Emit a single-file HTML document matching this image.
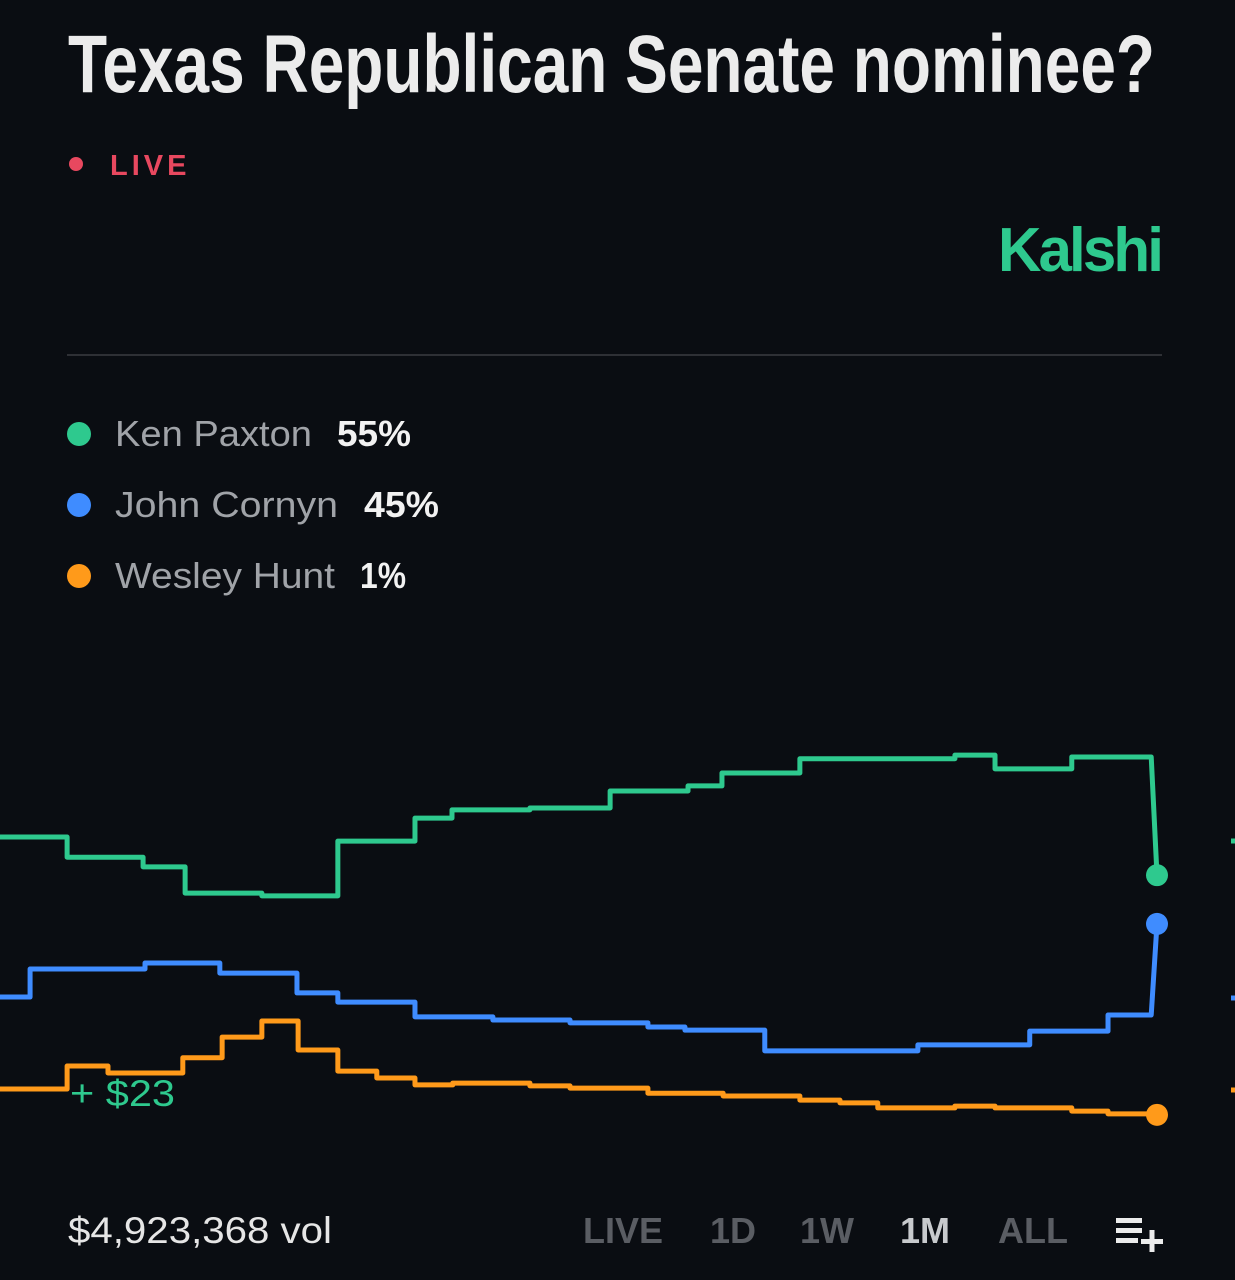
<!DOCTYPE html>
<html><head><meta charset="utf-8"><style>
html,body{margin:0;padding:0;background:#0a0d12;}
svg{display:block;}
</style></head><body>
<svg id="chart" width="1235" height="1280" viewBox="0 0 1235 1280" xmlns="http://www.w3.org/2000/svg">
<rect width="1235" height="1280" fill="#0a0d12"/>
<text x="68" y="92" font-family="Liberation Sans Narrow, Liberation Sans, sans-serif" font-weight="bold" font-size="82" fill="#ececec" textLength="1087" lengthAdjust="spacingAndGlyphs">Texas Republican Senate nominee?</text>
<circle cx="76" cy="164" r="7" fill="#e8485f"/>
<text x="110" y="175" font-family="Liberation Sans, sans-serif" font-weight="bold" font-size="29" letter-spacing="4" fill="#e8485f">LIVE</text>
<text x="998" y="271" font-family="Liberation Sans, sans-serif" font-weight="bold" font-size="62" letter-spacing="-3" fill="#2ec98e" textLength="163" lengthAdjust="spacingAndGlyphs">Kalshi</text>
<line x1="67" y1="355" x2="1162" y2="355" stroke="#2e3035" stroke-width="2"/>
<g font-family="Liberation Sans, sans-serif" font-size="36">
 <g><circle cx="79" cy="434" r="12" fill="#2ec98e"/><text x="115" y="446" fill="#a0a3a8" textLength="197" lengthAdjust="spacingAndGlyphs">Ken Paxton</text><text x="337" y="446" fill="#f2f2f2" font-weight="bold" textLength="74" lengthAdjust="spacingAndGlyphs">55%</text></g>
 <g><circle cx="79" cy="505" r="12" fill="#3f8cff"/><text x="115" y="517" fill="#a0a3a8" textLength="223" lengthAdjust="spacingAndGlyphs">John Cornyn</text><text x="364" y="517" fill="#f2f2f2" font-weight="bold" textLength="75" lengthAdjust="spacingAndGlyphs">45%</text></g>
 <g><circle cx="79" cy="576" r="12" fill="#ff9a1a"/><text x="115" y="588" fill="#a0a3a8" textLength="220" lengthAdjust="spacingAndGlyphs">Wesley Hunt</text><text x="360" y="588" fill="#f2f2f2" font-weight="bold" textLength="46" lengthAdjust="spacingAndGlyphs">1%</text></g>
</g>
<g id="plot"></g>
<text x="70" y="1106" font-family="Liberation Sans, sans-serif" font-size="37" fill="#2ec98e" textLength="105" lengthAdjust="spacingAndGlyphs">+ $23</text>
<text x="68" y="1243" font-family="Liberation Sans, sans-serif" font-size="37" fill="#e6e6e6" textLength="264" lengthAdjust="spacingAndGlyphs">$4,923,368 vol</text>
<g font-family="Liberation Sans, sans-serif" font-weight="bold" font-size="36">
 <text x="583" y="1243" fill="#5a5d63">LIVE</text>
 <text x="710" y="1243" fill="#5a5d63">1D</text>
 <text x="800" y="1243" fill="#5a5d63">1W</text>
 <text x="900" y="1243" fill="#c8cacd">1M</text>
 <text x="998" y="1243" fill="#5a5d63">ALL</text>
</g>
<g fill="#ececec">
 <rect x="1116" y="1218" width="26" height="5"/><rect x="1116" y="1228" width="26" height="5"/><rect x="1116" y="1238" width="22" height="5"/>
 <rect x="1141" y="1239" width="22" height="5"/><rect x="1149.5" y="1230" width="5" height="22"/>
</g>
</svg>
<script>
const paxtonTimes=[0,1.74,3.71,4.8,6.79,8.76,10.76,11.72,13.74,15.82,17.84,18.72,20.74,22.76,24.76,25.8,27.79];
const paxtonValues=[63.7,59.3,57.2,51.5,50.9,62.8,67.8,69.6,70,73.7,74.8,77.6,80.7,80.7,81.5,78.5,81.1];
const paxtonEnd=55.4;
const cornynTimes=[0,0.78,3.76,5.70,7.70,8.76,10.76,12.78,14.78,16.80,17.76,19.83,23.80,26.70,28.73];
const cornynValues=[28.9,35.0,36.3,34.1,29.8,27.8,24.6,23.9,23.3,22.4,21.7,17.2,18.5,21.5,25.0];
const cornynEnd=44.8;
const huntTimes=[0,1.74,2.80,3.76,4.74,5.76,6.79,7.73,8.76,9.77,10.76,11.74,13.74,14.78,16.80,18.75,20.74,21.78,22.76,24.76,25.80,27.79,28.73];
const huntValues=[8.9,13.9,12.4,12.4,15.7,20.2,23.7,17.4,12.8,11.3,9.8,10.2,9.6,9.1,8.0,7.4,6.5,5.9,4.8,5.2,4.8,4.1,3.5];
const huntEnd=3.3;
const endTime=30;

const xS=t=>t*1157/30;
const yS=v=>1130-v*4.6;
const plot=document.getElementById('plot');
const NS='http://www.w3.org/2000/svg';
function series(times,vals,end,color,name,stub){
  let d='M'+xS(times[0])+','+yS(vals[0]);
  for(let i=0;i<times.length;i++){
    const tn=(i+1<times.length)?times[i+1]:endTime-0.15;
    d+=' L'+xS(times[i])+','+yS(vals[i])+' L'+xS(tn)+','+yS(vals[i]);
  }
  d+=' L'+xS(endTime)+','+yS(end);
  const p=document.createElementNS(NS,'path');
  p.setAttribute('d',d);p.setAttribute('fill','none');p.setAttribute('stroke',color);
  p.setAttribute('stroke-width','5');p.setAttribute('stroke-linejoin','round');
  
  
  plot.appendChild(p);
  const c=document.createElementNS(NS,'circle');
  c.setAttribute('cx',xS(endTime));c.setAttribute('cy',yS(end));c.setAttribute('r','11');c.setAttribute('fill',color);
  
  
  plot.appendChild(c);
  const s=document.createElementNS(NS,'rect');
  s.setAttribute('x','1231');s.setAttribute('y',stub-2.5);s.setAttribute('width','4');s.setAttribute('height','5');s.setAttribute('fill',color);
  
  
  plot.appendChild(s);
}
series(paxtonTimes,paxtonValues,paxtonEnd,'#2ec98e','paxton',841);
series(cornynTimes,cornynValues,cornynEnd,'#3f8cff','cornyn',998);
series(huntTimes,huntValues,huntEnd,'#ff9a1a','hunt',1090);
</script>
</body></html>
